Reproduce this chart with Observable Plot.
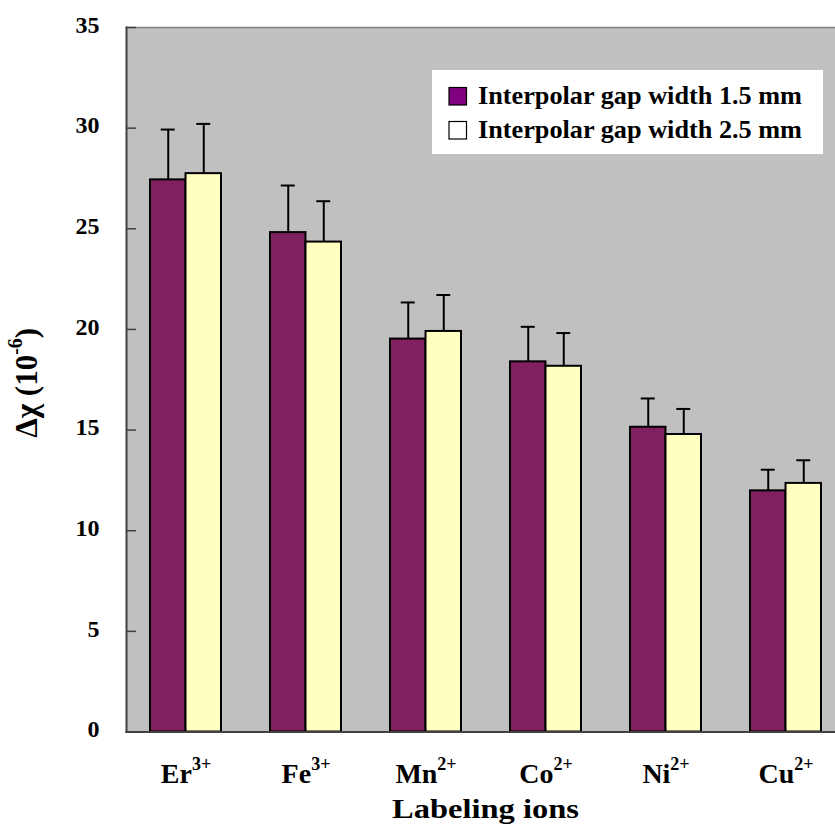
<!DOCTYPE html>
<html>
<head>
<meta charset="utf-8">
<script src="https://cdn.jsdelivr.net/npm/d3@7"></script>
<script src="https://cdn.jsdelivr.net/npm/@observablehq/plot@0.6"></script>
<style>
  html, body { margin: 0; padding: 0; background: #fff; overflow: hidden; }
  #chart svg { display: block; }
</style>
</head>
<body>
<div id="chart"></div>
<script>
// ---- data ----
const ions = ["Er", "Fe", "Mn", "Co", "Ni", "Cu"];
const charges = ["3+", "3+", "2+", "2+", "2+", "2+"];
const gap15 = [27.43, 24.81, 19.52, 18.39, 15.14, 11.98];
const err15 = [2.50, 2.34, 1.82, 1.74, 1.43, 1.05];
const gap25 = [27.74, 24.34, 19.90, 18.17, 14.78, 12.35];
const err25 = [2.47, 2.03, 1.81, 1.65, 1.27, 1.15];
const yTicks = [0, 5, 10, 15, 20, 25, 30, 35];
const seriesNames = ["Interpolar gap width 1.5 mm", "Interpolar gap width 2.5 mm"];
const xTitle = "Labeling ions";
const yTitle = "Δχ (10^-6^)";

const rows15 = ions.map((ion, i) => ({ion, v: gap15[i], e: err15[i]}));
const rows25 = ions.map((ion, i) => ({ion, v: gap25[i], e: err25[i]}));
const chargeOf = Object.fromEntries(ions.map((d, i) => [d, charges[i]]));

const W = 835, H = 833;
const mL = 126, mR = 0, mT = 27, mB = 101.5;
const bw = 120 * (1 - 0.408);
const half = bw / 2;
const capHalf = 7;
const FONT = "'Liberation Serif', 'Times New Roman', serif";

const plot = Plot.plot({
  width: W, height: H,
  marginLeft: mL, marginRight: mR, marginTop: mT, marginBottom: mB,
  style: {fontFamily: FONT, fontWeight: "bold", color: "#000", background: "#fff", overflow: "hidden"},
  x: {type: "band", domain: ions, range: [126, 846], paddingInner: 0.408, paddingOuter: 0.204, align: 0.5},
  y: {domain: [0, 35]},
  marks: [
    Plot.frame({fill: "#C0C0C0", stroke: null}),
    Plot.frame({anchor: "top", stroke: "#808080", strokeWidth: 1.5}),
    // bars
    Plot.barY(rows15, {x: "ion", y: "v", fill: "#802060", stroke: "#000", strokeWidth: 2, insetRight: half}),
    Plot.barY(rows25, {x: "ion", y: "v", fill: "#FFFFC0", stroke: "#000", strokeWidth: 2, insetLeft: half}),
    // error bars
    Plot.ruleX(rows15, {x: "ion", y1: "v", y2: d => d.v + d.e, dx: -half / 2, stroke: "#000", strokeWidth: 2}),
    Plot.ruleX(rows25, {x: "ion", y1: "v", y2: d => d.v + d.e, dx: half / 2, stroke: "#000", strokeWidth: 2}),
    Plot.tickY(rows15, {x: "ion", y: d => d.v + d.e, stroke: "#000", strokeWidth: 2,
      insetLeft: half / 2 - capHalf, insetRight: bw - half / 2 - capHalf}),
    Plot.tickY(rows25, {x: "ion", y: d => d.v + d.e, stroke: "#000", strokeWidth: 2,
      insetLeft: bw - half / 2 - capHalf, insetRight: half / 2 - capHalf}),
    // inward y tick marks
    Plot.ruleY(yTicks, {y: d => d, insetRight: (W - mL - mR) - 10, stroke: "#404040", strokeWidth: 1.5}),
    // axis lines
    Plot.frame({anchor: "left", stroke: "#404040", strokeWidth: 2}),
    Plot.frame({anchor: "bottom", stroke: "#404040", strokeWidth: 2}),
    // axes
    Plot.axisY({ticks: yTicks, tickSize: 0, tickPadding: 27, fontSize: 24, dy: -2.5, label: null}),
    Plot.axisX({tickSize: 0, tickPadding: 31.6, fontSize: 28, tickFormat: d => d + "^" + chargeOf[d], label: null}),
    Plot.text([xTitle], {frameAnchor: "bottom", dy: 86, dx: 4.5, lineAnchor: "bottom", textAnchor: "middle", fontSize: 28, fontWeight: "bold"}),
    Plot.text([yTitle], {frameAnchor: "left", rotate: -90, dx: -90, dy: 3, lineAnchor: "bottom", textAnchor: "middle", fontSize: 31, fontWeight: "bold"})
  ]
});

document.getElementById("chart").appendChild(plot);

// superscripts: "a^b^c" -> a, sup(b), c
d3.select(plot).selectAll("text").each(function() {
  const t = d3.select(this);
  const s = this.textContent;
  if (!s.includes("^")) return;
  const parts = s.split("^");
  const fs = parseFloat(getComputedStyle(this).fontSize) || 24;
  const supSize = Math.round(fs * 0.64);
  const shift = Math.round(fs * 0.47);
  t.text(null);
  parts.forEach((p, i) => {
    if (!p) return;
    const sp = t.append("tspan").text(p);
    if (i % 2 === 1) {
      sp.attr("font-size", supSize).attr("dy", -shift);
    } else if (i > 0) {
      sp.attr("dy", shift);
    }
  });
});

// stretch x title to reference width
d3.select(plot).selectAll("text").filter(function() { return this.textContent === xTitle; })
  .attr("textLength", 187).attr("lengthAdjust", "spacingAndGlyphs");

// legend
const svg = d3.select(plot);
const lg = svg.append("g").attr("font-family", FONT).attr("font-weight", "bold").attr("text-anchor", "start");
lg.append("rect").attr("x", 432).attr("y", 70).attr("width", 391).attr("height", 84).attr("fill", "#fff");
const swatches = ["#800080", "#FFFFFF"];
seriesNames.forEach((name, i) => {
  const y0 = 87.5 + i * 34;
  lg.append("rect").attr("x", 449).attr("y", y0).attr("width", 17.5).attr("height", 17.5)
    .attr("fill", swatches[i]).attr("stroke", "#000").attr("stroke-width", 1.2);
  lg.append("text").attr("x", 478).attr("y", y0 + 16).attr("font-size", 25)
    .attr("textLength", 324).attr("lengthAdjust", "spacingAndGlyphs").attr("fill", "#000").text(name);
});
</script>
</body>
</html>
